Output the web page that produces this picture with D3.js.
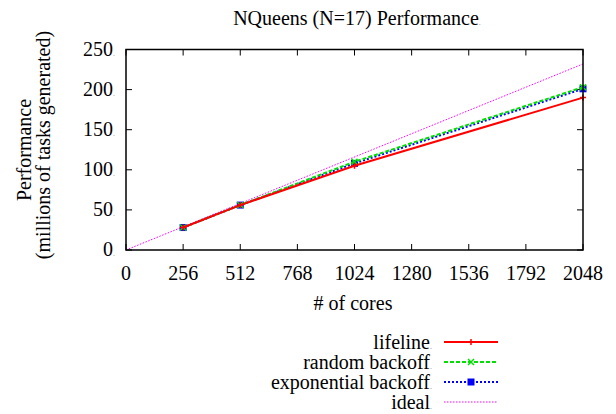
<!DOCTYPE html>
<html lang="en">
<head>
<meta charset="UTF-8"/>
<title>NQueens Performance</title>
<script src="https://d3js.org/d3.v7.min.js"></script>
<style>
    html, body { margin: 0; padding: 0; background: #fff; }
    svg text { font-family: "Liberation Serif", "DejaVu Serif", serif; fill: #000; font-size: 20px; }
    svg tspan.dot { font-size: 8px; fill: #888; }
</style>
</head>
<body>
<div id="chart"></div>
<script>
    // data
    var cores = [256, 512, 1024, 2048];
    var lifeline = [28, 56, 105, 190];
    var randomBackoff = [28, 56, 110, 203];
    var expBackoff = [28, 56, 108, 201];
    var idealCores = [0, 2048];
    var ideal = [0, 232];
    var xTicks = [0, 256, 512, 768, 1024, 1280, 1536, 1792, 2048];
    var yTicks = [0, 50, 100, 150, 200, 250];

    var w = 616, h = 414;
    var plotL = 126, plotR = 583, plotT = 49.5, plotB = 250;

    var svg = d3.select("#chart").append("svg")
        .attr("width", w).attr("height", h);

    var x = d3.scaleLinear().domain([0, 2048]).range([plotL, plotR]);
    var y = d3.scaleLinear().domain([0, 250]).range([plotB, plotT]);

    // small trailing dot that gnuplot leaves after labels
    function label(sel, txt) {
        sel.text(txt);
        sel.append("tspan").attr("class", "dot").text(".");
        return sel;
    }

    // ticks, inward on all four sides
    var g = svg.append("g").attr("stroke", "#000").attr("stroke-width", 1);
    xTicks.forEach(function(t) {
        g.append("line").attr("x1", x(t)).attr("x2", x(t)).attr("y1", plotB).attr("y2", plotB - 6);
        g.append("line").attr("x1", x(t)).attr("x2", x(t)).attr("y1", plotT).attr("y2", plotT + 6);
    });
    yTicks.forEach(function(t) {
        g.append("line").attr("x1", plotL).attr("x2", plotL + 6).attr("y1", y(t)).attr("y2", y(t));
        g.append("line").attr("x1", plotR).attr("x2", plotR - 6).attr("y1", y(t)).attr("y2", y(t));
    });

    svg.selectAll(".xt").data(xTicks).enter().append("text")
        .attr("class", "xt")
        .attr("x", function(d) { return x(d); })
        .attr("y", plotB + 30)
        .attr("text-anchor", "middle")
        .text(function(d) { return d; });

    svg.selectAll(".yt").data(yTicks).enter().append("text")
        .attr("class", "yt")
        .attr("x", plotL - 11)
        .attr("y", function(d) { return y(d) + 6; })
        .attr("text-anchor", "end")
        .each(function(d) { label(d3.select(this), d); });

    // titles
    label(svg.append("text").attr("x", 357).attr("y", 25).attr("text-anchor", "middle"),
        "NQueens (N=17) Performance");
    svg.append("text").attr("x", 353).attr("y", 310).attr("text-anchor", "middle").text("# of cores");
    svg.append("text").attr("transform", "translate(31,150) rotate(-90)")
        .attr("text-anchor", "middle").text("Performance");
    svg.append("text").attr("transform", "translate(50,145) rotate(-90)")
        .attr("text-anchor", "middle").text("(millions of tasks generated)");

    var series = [
        { name: "lifeline", xs: cores, ys: lifeline, color: "#ff0000", width: 2, dash: null, mark: "plus" },
        { name: "random backoff", xs: cores, ys: randomBackoff, color: "#00e000", width: 2, dash: "4,2", mark: "cross" },
        { name: "exponential backoff", xs: cores, ys: expBackoff, color: "#0000ff", width: 2, dash: "2,2", mark: "square" },
        { name: "ideal", xs: idealCores, ys: ideal, color: "#ff00ff", width: 1, dash: "1.5,1.5", mark: null }
    ];

    function drawMark(sel, type, cx, cy, color) {
        if (type === "plus") {
            sel.append("path").attr("d", "M" + (cx - 3) + "," + cy + "h6M" + cx + "," + (cy - 3) + "v6")
                .attr("stroke", color).attr("stroke-width", 1.5);
        } else if (type === "cross") {
            sel.append("path").attr("d", "M" + (cx - 3) + "," + (cy - 3) + "l6,6M" + (cx - 3) + "," + (cy + 3) + "l6,-6")
                .attr("stroke", color).attr("stroke-width", 1.5);
        } else if (type === "square") {
            sel.append("rect").attr("x", cx - 3.5).attr("y", cy - 3.5).attr("width", 7).attr("height", 7)
                .attr("fill", color);
        }
    }

    var line = d3.line().x(function(d) { return x(d[0]); }).y(function(d) { return y(d[1]); });

    series.slice().reverse().forEach(function(s) {
        var pts = s.xs.map(function(v, i) { return [v, s.ys[i]]; });
        svg.append("path").datum(pts).attr("d", line)
            .attr("fill", "none").attr("stroke", s.color).attr("stroke-width", s.width)
            .attr("stroke-dasharray", s.dash);
        if (s.mark) {
            pts.forEach(function(p) { drawMark(svg, s.mark, x(p[0]), y(p[1]), s.color); });
        }
    });

    // frame
    svg.append("rect").attr("x", plotL).attr("y", plotT).attr("width", plotR - plotL).attr("height", plotB - plotT)
        .attr("fill", "none").attr("stroke", "#000").attr("stroke-width", 1.5);

    // legend
    series.forEach(function(s, i) {
        var ly = 342 + i * 20;
        label(svg.append("text").attr("x", 432).attr("y", ly + 7).attr("text-anchor", "end"), s.name);
        svg.append("line").attr("x1", 444).attr("x2", 498).attr("y1", ly).attr("y2", ly)
            .attr("stroke", s.color).attr("stroke-width", s.width).attr("stroke-dasharray", s.dash);
        if (s.mark) drawMark(svg, s.mark, 471, ly, s.color);
    });
</script>
</body>
</html>
